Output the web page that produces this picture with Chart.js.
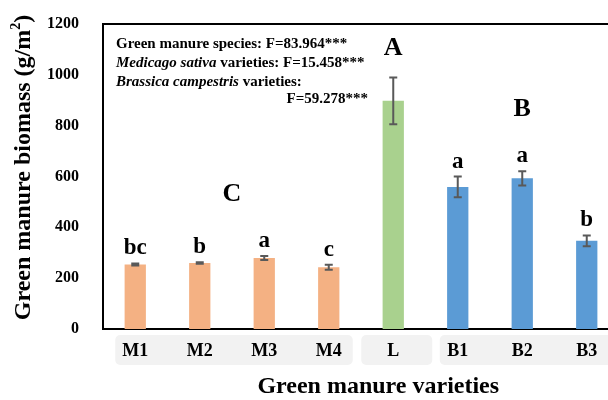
<!DOCTYPE html>
<html>
<head>
<meta charset="utf-8">
<script src="https://cdn.jsdelivr.net/npm/chart.js@4.4.1/dist/chart.umd.min.js"></script>
<style>
  html, body { margin: 0; padding: 0; overflow: hidden; background: #fff; }
</style>
</head>
<body>
<canvas id="chart" width="620" height="400"></canvas>
<script>
const categories = ['M1', 'M2', 'M3', 'M4', 'L', 'B1', 'B2', 'B3'];
const biomass = [254, 260, 279, 243, 898, 559, 593, 347];
const errors = [4, 3, 8, 10, 92, 41, 28, 21];
const letters = ['bc', 'b', 'a', 'c', '', 'a', 'a', 'b'];
const barColors = ['#F4B183', '#F4B183', '#F4B183', '#F4B183', '#A9D18E', '#5B9BD5', '#5B9BD5', '#5B9BD5'];

// species-level letters: label, category position, height (g/m2)
const groupLetters = ['C', 'A', 'B'];
const groupLetterX = [1.5, 4, 6];
const groupLetterY = [503, 1078, 838];

// grey boxes behind the category labels
const boxStart = [0, 4, 5];
const boxEnd = [3, 4, 7];

const statLines = [
  [['Green manure species: F=83.964***', false]],
  [['Medicago sativa', true], [' varieties: F=15.458***', false]],
  [['Brassica campestris', true], [' varieties:', false]],
];
const statLast = 'F=59.278***';

const SERIF = "'Times New Roman', 'Liberation Serif', serif";

const extras = {
  id: 'extras',
  beforeDraw(chart) {
    const { ctx, scales: { x } } = chart;
    const area = chart.chartArea;
    const padL = [20, 32, 18], padR = [24, 39, 40];
    ctx.save();
    ctx.fillStyle = '#f2f2f2';
    boxStart.forEach((s, i) => {
      const x0 = x.getPixelForValue(s) - padL[i];
      const x1 = x.getPixelForValue(boxEnd[i]) + padR[i];
      ctx.beginPath();
      ctx.roundRect(x0, area.bottom + 6, x1 - x0, 30, 5);
      ctx.fill();
    });
    ctx.restore();
  },
  afterDatasetsDraw(chart) {
    const { ctx, scales: { y } } = chart;
    const bars = chart.getDatasetMeta(0).data;
    ctx.save();
    ctx.strokeStyle = '#595959';
    ctx.lineWidth = 2;
    bars.forEach((bar, i) => {
      const top = y.getPixelForValue(biomass[i] + errors[i]);
      const bot = y.getPixelForValue(biomass[i] - errors[i]);
      ctx.beginPath();
      ctx.moveTo(bar.x, top); ctx.lineTo(bar.x, bot);
      ctx.moveTo(bar.x - 4, top); ctx.lineTo(bar.x + 4, top);
      ctx.moveTo(bar.x - 4, bot); ctx.lineTo(bar.x + 4, bot);
      ctx.stroke();
    });
    ctx.restore();
  },
  afterDraw(chart) {
    const { ctx, scales: { x, y } } = chart;
    const area = chart.chartArea;
    const bars = chart.getDatasetMeta(0).data;
    ctx.save();

    // top border of plot area
    ctx.strokeStyle = '#000';
    ctx.lineWidth = 2;
    ctx.beginPath();
    ctx.moveTo(area.left - 1, area.top);
    ctx.lineTo(area.right + 2, area.top);
    ctx.stroke();

    ctx.fillStyle = '#000';
    ctx.textAlign = 'center';
    ctx.textBaseline = 'alphabetic';

    // significance letters
    ctx.font = 'bold 23px ' + SERIF;
    bars.forEach((bar, i) => {
      if (!letters[i]) return;
      ctx.fillText(letters[i], bar.x, y.getPixelForValue(biomass[i] + errors[i]) - 9);
    });

    ctx.font = 'bold 26px ' + SERIF;
    groupLetters.forEach((l, i) => {
      ctx.fillText(l, x.getPixelForValue(groupLetterX[i]), y.getPixelForValue(groupLetterY[i]));
    });

    // F statistics
    ctx.textAlign = 'left';
    const tx = area.left + 13;
    statLines.forEach((segs, k) => {
      let cx = tx;
      const by = area.top + 24 + k * 19;
      segs.forEach(([t, it]) => {
        ctx.font = (it ? 'italic ' : '') + 'bold 15px ' + SERIF;
        ctx.fillText(t, cx, by);
        cx += ctx.measureText(t).width;
      });
    });
    ctx.textAlign = 'right';
    ctx.font = 'bold 15px ' + SERIF;
    ctx.fillText(statLast, area.left + 265, area.top + 79);

    // x axis title
    ctx.textAlign = 'center';
    ctx.font = 'bold 24px ' + SERIF;
    ctx.fillText('Green manure varieties', x.getPixelForValue(4) - 15, area.bottom + 64);

    // y axis title with superscript
    ctx.translate(30, (area.top + area.bottom) / 2 - 9);
    ctx.rotate(-Math.PI / 2);
    ctx.textAlign = 'left';
    const main = 'Green manure biomass (g/m';
    ctx.font = 'bold 24px ' + SERIF;
    const w1 = ctx.measureText(main).width;
    const w3 = ctx.measureText(')').width;
    ctx.font = 'bold 14px ' + SERIF;
    const w2 = ctx.measureText('2').width;
    let sx = -(w1 + w2 + w3) / 2;
    ctx.font = 'bold 24px ' + SERIF;
    ctx.fillText(main, sx, 0);
    ctx.font = 'bold 14px ' + SERIF;
    ctx.fillText('2', sx + w1, -10);
    ctx.font = 'bold 24px ' + SERIF;
    ctx.fillText(')', sx + w1 + w2, 0);
    ctx.restore();
  }
};

new Chart(document.getElementById('chart'), {
  type: 'bar',
  data: {
    labels: categories,
    datasets: [{
      data: biomass,
      backgroundColor: barColors,
      barPercentage: 0.33,
      categoryPercentage: 1,
    }],
  },
  options: {
    responsive: false,
    animation: false,
    devicePixelRatio: 1,
    layout: { padding: { top: 24, right: 1, left: 0, bottom: 0 } },
    plugins: { legend: { display: false }, tooltip: { enabled: false } },
    scales: {
      x: {
        grid: { display: false, drawTicks: false },
        border: { display: true, color: '#000', width: 2 },
        ticks: { color: '#000', padding: 12, font: { family: SERIF, size: 18, weight: 'bold' } },
        afterFit: (s) => { s.height = 71; },
      },
      y: {
        min: 0,
        max: 1200,
        grid: { display: false, drawTicks: false },
        border: { display: true, color: '#000', width: 2 },
        ticks: {
          stepSize: 200,
          color: '#000',
          padding: 24,
          font: { family: SERIF, size: 16, weight: 'bold' },
          callback: (v) => String(v),
        },
        afterFit: (s) => { s.width = 103; s.paddingTop = 0; s.paddingBottom = 0; },
      },
    },
  },
  plugins: [extras],
});
</script>
</body>
</html>
